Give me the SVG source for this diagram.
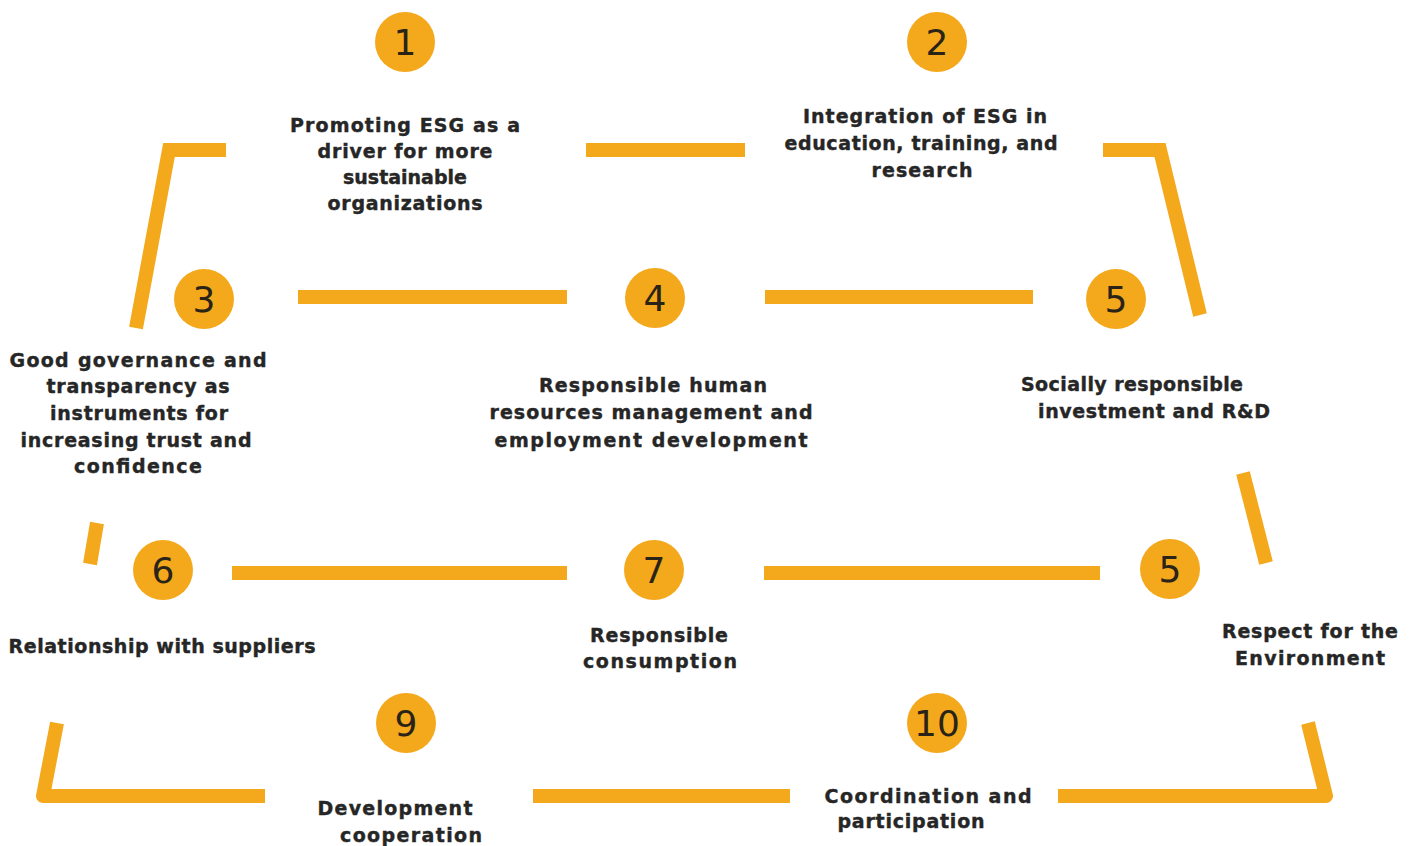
<svg xmlns="http://www.w3.org/2000/svg" width="1416" height="846" viewBox="0 0 1416 846">
  <style>
    .bar { fill: none; stroke: #F4A81C; stroke-width: 14; stroke-linecap: butt; }
    .miter { stroke-linejoin: miter; }
    .round { stroke-linejoin: round; }
    .dot { fill: #F4A81C; }
    .num { font-family: "DejaVu Sans", "Open Sans", sans-serif; font-size: 36px; fill: #2a2418; text-anchor: middle; }
    .lbl { font-family: "DejaVu Sans", "Open Sans", sans-serif; font-weight: bold; font-size: 19px; fill: #262626; stroke: #262626; stroke-width: 0.4; text-anchor: middle; }
  </style>
  <rect width="1416" height="846" fill="#ffffff"/>

  <!-- frame and link bars -->
  <g id="connectors">
    <path class="bar miter" d="M226,150 L169,150 L136,328"/>
    <path class="bar" d="M586,150 L745,150"/>
    <path class="bar miter" d="M1103,150 L1160,150 L1200,315"/>
    <path class="bar" d="M298,297 L567,297"/>
    <path class="bar" d="M765,297 L1033,297"/>
    <path class="bar" d="M97,523 L90,564"/>
    <path class="bar" d="M1243,473 L1266,563"/>
    <path class="bar" d="M232,573 L567,573"/>
    <path class="bar" d="M764,573 L1100,573"/>
    <path class="bar round" d="M57,723 L43,796 L265,796"/>
    <path class="bar" d="M533,796 L790,796"/>
    <path class="bar round" d="M1308,723 L1326,796 L1058,796"/>
  </g>

  <g id="node-1">
    <circle class="dot" cx="405" cy="42" r="30"/>
    <text class="num" x="405" y="55">1</text>
    <text class="lbl" x="405" y="132" textLength="230" lengthAdjust="spacing">Promoting ESG as a</text>
    <text class="lbl" x="405" y="158" textLength="175" lengthAdjust="spacing">driver for more</text>
    <text class="lbl" x="405" y="184">sustainable</text>
    <text class="lbl" x="405" y="210" textLength="155" lengthAdjust="spacing">organizations</text>
  </g>

  <g id="node-2">
    <circle class="dot" cx="937" cy="42" r="30"/>
    <text class="num" x="937" y="55">2</text>
    <text class="lbl" x="925" y="123" textLength="244" lengthAdjust="spacing">Integration of ESG in</text>
    <text class="lbl" x="921" y="150" textLength="273" lengthAdjust="spacing">education, training, and</text>
    <text class="lbl" x="922" y="177" textLength="101" lengthAdjust="spacing">research</text>
  </g>

  <g id="node-3">
    <circle class="dot" cx="204" cy="299" r="30"/>
    <text class="num" x="204" y="312">3</text>
    <text class="lbl" x="138" y="367" textLength="257" lengthAdjust="spacing">Good governance and</text>
    <text class="lbl" x="138" y="393" textLength="183" lengthAdjust="spacing">transparency as</text>
    <text class="lbl" x="139" y="420" textLength="178" lengthAdjust="spacing">instruments for</text>
    <text class="lbl" x="136" y="447" textLength="231" lengthAdjust="spacing">increasing trust and</text>
    <text class="lbl" x="138" y="473" textLength="128" lengthAdjust="spacing">confidence</text>
  </g>

  <g id="node-4">
    <circle class="dot" cx="655" cy="298" r="30"/>
    <text class="num" x="655" y="311">4</text>
    <text class="lbl" x="653" y="392" textLength="228" lengthAdjust="spacing">Responsible human</text>
    <text class="lbl" x="651" y="419" textLength="323" lengthAdjust="spacing">resources management  and</text>
    <text class="lbl" x="651" y="447" textLength="313" lengthAdjust="spacing">employment development</text>
  </g>

  <g id="node-5-investment">
    <circle class="dot" cx="1116" cy="299" r="30"/>
    <text class="num" x="1116" y="312">5</text>
    <text class="lbl" x="1132" y="391" textLength="222" lengthAdjust="spacing">Socially responsible</text>
    <text class="lbl" x="1154" y="418" textLength="232" lengthAdjust="spacing">investment and R&amp;D</text>
  </g>

  <g id="node-6">
    <circle class="dot" cx="163" cy="570" r="30"/>
    <text class="num" x="163" y="583">6</text>
    <text class="lbl" x="162" y="653" textLength="307" lengthAdjust="spacing">Relationship with suppliers</text>
  </g>

  <g id="node-7">
    <circle class="dot" cx="654" cy="570" r="30"/>
    <text class="num" x="654" y="583">7</text>
    <text class="lbl" x="659" y="642" textLength="138" lengthAdjust="spacing">Responsible</text>
    <text class="lbl" x="660" y="668" textLength="154" lengthAdjust="spacing">consumption</text>
  </g>

  <g id="node-5-environment">
    <circle class="dot" cx="1170" cy="569" r="30"/>
    <text class="num" x="1170" y="582">5</text>
    <text class="lbl" x="1310" y="638" textLength="176" lengthAdjust="spacing">Respect for the</text>
    <text class="lbl" x="1310" y="665" textLength="150" lengthAdjust="spacing">Environment</text>
  </g>

  <g id="node-9">
    <circle class="dot" cx="406" cy="723" r="30"/>
    <text class="num" x="406" y="736">9</text>
    <text class="lbl" x="395" y="815" textLength="155" lengthAdjust="spacing">Development</text>
    <text class="lbl" x="411" y="842" textLength="142" lengthAdjust="spacing">cooperation</text>
  </g>

  <g id="node-10">
    <circle class="dot" cx="937" cy="723" r="30"/>
    <text class="num" x="937" y="736">10</text>
    <text class="lbl" x="928" y="803" textLength="207" lengthAdjust="spacing">Coordination and</text>
    <text class="lbl" x="911" y="828" textLength="147" lengthAdjust="spacing">participation</text>
  </g>
</svg>
